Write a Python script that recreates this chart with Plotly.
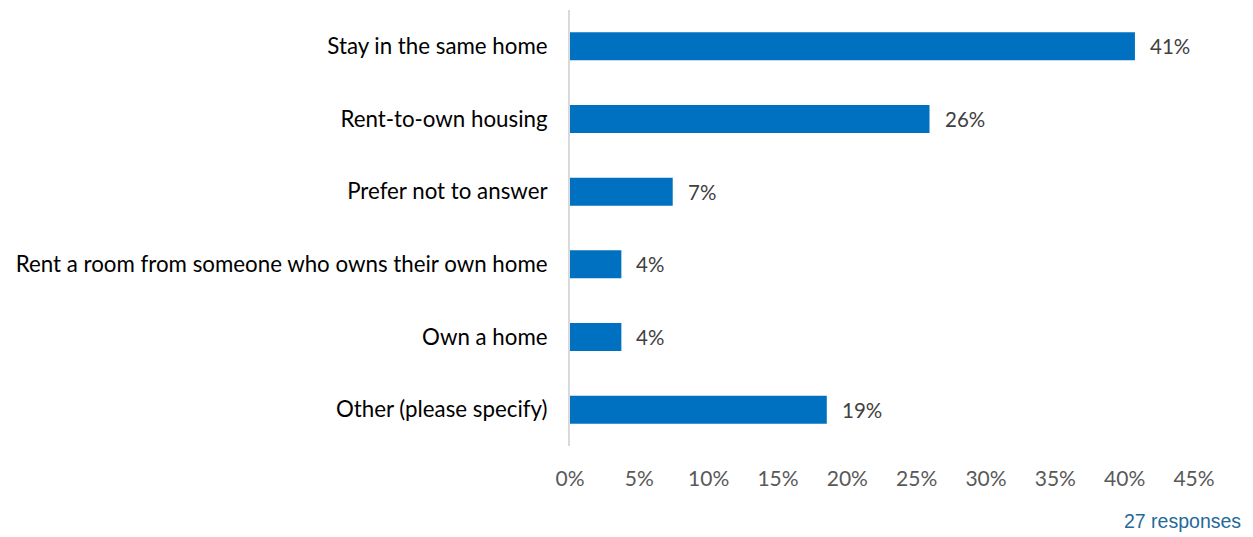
import plotly.graph_objects as go

# Survey answers (top to bottom) and number of respondents choosing each
categories = [
    "Stay in the same home",
    "Rent-to-own housing",
    "Prefer not to answer",
    "Rent a room from someone who owns their own home",
    "Own a home",
    "Other (please specify)",
]
counts = [11, 7, 2, 1, 1, 5]
total_responses = 27
x_ticks = [0, 0.05, 0.10, 0.15, 0.20, 0.25, 0.30, 0.35, 0.40, 0.45]
x_tick_labels = ["0%", "5%", "10%", "15%", "20%", "25%", "30%", "35%", "40%", "45%"]

shares = [c / total_responses for c in counts]
share_labels = [f"{round(s * 100)}%" for s in shares]

BAR_COLOR = "#0070C0"
FONT = "Lato, Carlito, sans-serif"

fig = go.Figure(
    go.Bar(
        x=shares,
        y=categories,
        orientation="h",
        marker=dict(color=BAR_COLOR, line=dict(width=0)),
        width=0.385,
        hoverinfo="skip",
    )
)

# value labels just right of each bar end
for cat, s, lab in zip(categories, shares, share_labels):
    fig.add_annotation(
        x=s, y=cat, text=lab, showarrow=False,
        xanchor="left", yanchor="middle", xshift=13,
        font=dict(family=FONT, size=20.5, color="#404040"),
    )

fig.add_annotation(
    xref="paper", yref="paper", x=1.0, y=0,
    text=f"{total_responses} responses", showarrow=False,
    xanchor="right", yanchor="top", xshift=49, yshift=-62,
    font=dict(family="Liberation Sans, Arial, sans-serif", size=19.5, color="#1F6A9A"),
)

fig.update_layout(
    width=1253, height=537,
    margin=dict(l=570, r=59, t=10, b=91),
    paper_bgcolor="white", plot_bgcolor="white",
    showlegend=False,
    xaxis=dict(
        range=[0, 0.45],
        tickvals=x_ticks, ticktext=x_tick_labels,
        showgrid=False, zeroline=False, showline=False,
        ticks="", ticklabelstandoff=18,
        tickfont=dict(family=FONT, size=21, color="#595959"),
        automargin=False,
        fixedrange=True,
    ),
    yaxis=dict(
        categoryorder="array", categoryarray=categories[::-1],
        showgrid=False, zeroline=False,
        showline=True, linecolor="#D9D9D9", linewidth=2,
        ticks="", ticklabelstandoff=16,
        tickfont=dict(family=FONT, size=22.3, color="#000000"),
        automargin=False,
        fixedrange=True,
    ),
)

fig.write_html("out.html")
